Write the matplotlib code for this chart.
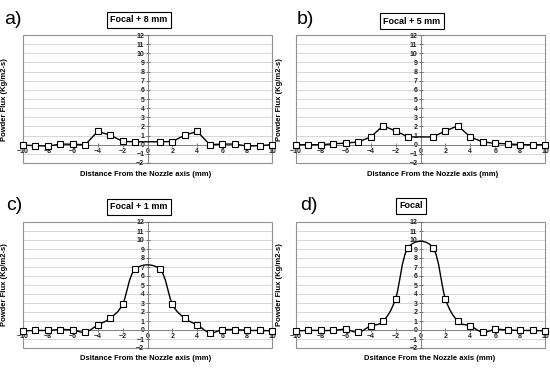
import numpy as np
import matplotlib
matplotlib.use("Agg")
import matplotlib.pyplot as plt
from matplotlib.path import Path
from matplotlib.patches import PathPatch, Rectangle

plt.rcParams['font.family'] = ['Liberation Sans', 'DejaVu Sans']

# positions (mm) - no measurement at 0
x_mm = [-10, -9, -8, -7, -6, -5, -4, -3, -2, -1, 1, 2, 3, 4, 5, 6, 7, 8, 9, 10]

flux_a = [-0.05, -0.1, -0.15, 0.07, 0.05, 0.0, 1.45, 1.05, 0.37, 0.32,
          0.32, 0.35, 1.05, 1.45, 0.0, 0.07, 0.07, -0.15, -0.1, 0.0]
flux_b = [0.0, 0.0, 0.0, 0.1, 0.18, 0.3, 0.85, 2.07, 1.5, 0.85,
          0.85, 1.5, 2.07, 0.85, 0.3, 0.15, 0.1, 0.0, 0.0, 0.0]
flux_c = [-0.1, -0.05, -0.05, 0.05, 0.0, -0.25, 0.55, 1.3, 2.85, 6.75,
          6.75, 2.85, 1.3, 0.55, -0.3, 0.0, 0.05, -0.05, -0.05, -0.1]
flux_d = [-0.1, -0.05, -0.05, -0.05, 0.07, -0.25, 0.45, 0.97, 3.48, 9.15,
          9.15, 3.45, 0.97, 0.45, -0.25, 0.07, 0.0, -0.05, -0.05, -0.1]

panel_tags = ["a)", "b)", "c)", "d)"]
titles = ["Focal + 8 mm", "Focal + 5 mm", "Focal + 1 mm", "Focal"]
xlabels = ["Distance From the Nozzle axis (mm)", "Distance From the Nozzle axis (mm)",
           "Dsitance From the Nozzle axis (mm)", "Dsitance From the Nozzle axis (mm)"]
ylabel = "Powder Flux (Kg/m2-s)"
smooth = [False, False, True, True]


def excel_smooth_path(xs, ys):
    # Excel-like smoothed line: cubic Bezier with tangent (P2-P0)/6
    pts = np.column_stack([xs, ys]).astype(float)
    n = len(pts)
    verts = [pts[0]]
    codes = [Path.MOVETO]
    for i in range(n - 1):
        p0 = pts[i - 1] if i > 0 else pts[i]
        p1 = pts[i]
        p2 = pts[i + 1]
        p3 = pts[i + 2] if i + 2 < n else pts[i + 1]
        c1 = p1 + (p2 - p0) / 6.0
        c2 = p2 - (p3 - p1) / 6.0
        verts += [c1, c2, p2]
        codes += [Path.CURVE4] * 3
    return Path(verts, codes)


fig = plt.figure(figsize=(5.5, 3.7), dpi=100)
W, H = 550.0, 370.0

# axes boxes in pixels: left, top, right, bottom
boxes = [(23, 35, 272, 163), (296, 35, 545, 163),
         (23, 222, 272, 348), (296, 222, 545, 348)]
tag_pos = [(4, 19), (297, 20), (6, 205), (300, 206)]
title_pos = [(139, 20), (412, 21), (139, 207), (411, 206)]
xlab_pos = [(146, 174), (433, 174), (146, 358), (430, 358)]
ylab_pos = [(5, 100), (280, 100), (5, 285), (280, 285)]

data = [flux_a, flux_b, flux_c, flux_d]

for k in range(4):
    l, t, r, b = boxes[k]
    ax = fig.add_axes([l / W, 1 - b / H, (r - l) / W, (b - t) / H])
    ax.set_xlim(-10, 10)
    ax.set_ylim(-2, 12)
    ax.set_yticks(range(-2, 13))
    ax.set_xticks(range(-10, 11, 2))
    for yy in range(-2, 13):
        ax.axhline(yy, color='#d0d0d0', lw=0.6, zorder=0)
    for s in ['top', 'right']:
        ax.spines[s].set_visible(False)
    ax.spines['left'].set_position(('data', 0))
    ax.spines['bottom'].set_position(('data', 0))
    ax.spines['left'].set_color('#808080')
    ax.spines['bottom'].set_color('#808080')
    ax.spines['left'].set_linewidth(0.7)
    ax.spines['bottom'].set_linewidth(0.7)
    ax.add_patch(Rectangle((0, 0), 1, 1, transform=ax.transAxes, fill=False,
                           edgecolor='#909090', lw=0.8, clip_on=False, zorder=1))
    ax.tick_params(axis='both', direction='inout', length=2.5, width=0.6,
                   color='#606060', labelsize=5, pad=1)
    for lab in ax.get_xticklabels() + ax.get_yticklabels():
        lab.set_fontweight('bold')
        lab.set_color('#222222')

    ys = data[k]
    if smooth[k]:
        ax.add_patch(PathPatch(excel_smooth_path(x_mm, ys), fill=False,
                               edgecolor='black', lw=1.0, zorder=3))
    else:
        ax.plot(x_mm, ys, color='black', lw=1.0, zorder=3)
    ax.plot(x_mm, ys, ls='none', marker='s', markersize=5,
            markerfacecolor='white', markeredgecolor='black',
            markeredgewidth=0.8, zorder=4, clip_on=False)

    fig.text(tag_pos[k][0] / W, 1 - tag_pos[k][1] / H, panel_tags[k],
             fontsize=14, ha='left', va='center')
    fig.text(title_pos[k][0] / W, 1 - title_pos[k][1] / H, titles[k],
             fontsize=6.5, fontweight='bold', ha='center', va='center',
             bbox=dict(boxstyle='square,pad=0.4', facecolor='white',
                       edgecolor='black', lw=0.8))
    fig.text(xlab_pos[k][0] / W, 1 - xlab_pos[k][1] / H, xlabels[k],
             fontsize=5.5, fontweight='bold', ha='center', va='center')
    fig.text(ylab_pos[k][0] / W, 1 - ylab_pos[k][1] / H, ylabel,
             fontsize=5.5, fontweight='bold', ha='center', va='center',
             rotation=90)

fig.savefig("out.png", dpi=100)
